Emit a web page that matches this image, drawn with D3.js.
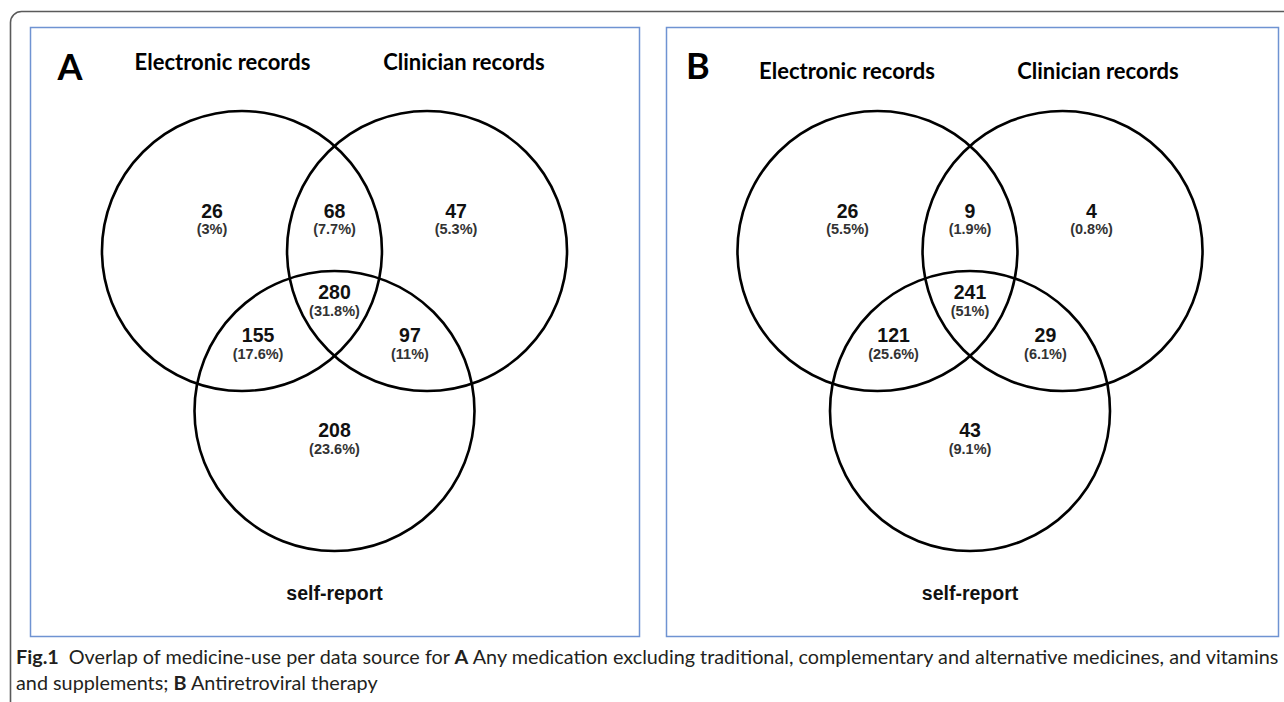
<!DOCTYPE html>
<html>
<head>
<meta charset="utf-8">
<script src="https://cdn.jsdelivr.net/npm/d3@7"></script>
<style>
  html, body { margin: 0; padding: 0; background: #fff; }
  svg { display: block; }
</style>
</head>
<body>
<svg id="fig" width="1284" height="702"></svg>
<script>
// Three data sources compared in each panel
const sources = ["Electronic records", "Clinician records", "self-report"];
const panelLetters = ["A", "B"];

// Regions of the three-set Venn diagram, E = electronic, C = clinician, S = self-report
const regions = ["E", "EC", "C", "ECS", "ES", "CS", "S"];

// Panel A: any medication (excl. TCAM, vitamins and supplements)
const countsA = [26, 68, 47, 280, 155, 97, 208];
const percentA = ["3%", "7.7%", "5.3%", "31.8%", "17.6%", "11%", "23.6%"];

// Panel B: antiretroviral therapy
const countsB = [26, 9, 4, 241, 121, 29, 43];
const percentB = ["5.5%", "1.9%", "0.8%", "51%", "25.6%", "6.1%", "9.1%"];

const captionLine1 = [
  { text: "Fig.1", bold: true },
  { text: "\u2002Overlap of medicine-use per data source for ", bold: false },
  { text: "A", bold: true },
  { text: " Any medication excluding traditional, complementary and alternative medicines, and vitamins", bold: false }
];
const captionLine2 = [
  { text: "and supplements; ", bold: false },
  { text: "B", bold: true },
  { text: " Antiretroviral therapy", bold: false }
];

const svg = d3.select("#fig");

// Outer figure frame (rounded corner, runs off the right and bottom)
svg.append("rect")
  .attr("x", 10.5).attr("y", 11.5)
  .attr("width", 1320).attr("height", 740)
  .attr("rx", 11).attr("ry", 11)
  .attr("fill", "none")
  .attr("stroke", "#5a5a5a")
  .attr("stroke-width", 1.6);

// Venn layout in unit-radius coordinates (origin between the two upper circles)
const circleCentres = [[-0.661, 0], [0.661, 0], [0, 1.143]];
const labelAnchors = {
  E: [-0.875, -0.236], EC: [0, -0.236], C: [0.868, -0.236],
  ECS: [0, 0.343], ES: [-0.546, 0.65], CS: [0.539, 0.65], S: [0, 1.329]
};

const radiusPx = 140;
const panels = [
  { letter: panelLetters[0], counts: countsA, pct: percentA,
    box: [30.5, 27.5, 609, 609], origin: [334.5, 251],
    letterPos: [-277, -173], titles: [[-112, -181], [129.5, -181]] },
  { letter: panelLetters[1], counts: countsB, pct: percentB,
    box: [666.5, 27.5, 612, 609], origin: [970, 251],
    letterPos: [-284, -174], titles: [[-123, -172], [128, -172]] }
];

panels.forEach(p => {
  const g = svg.append("g");
  const x = d3.scaleLinear().domain([-1, 1]).range([p.origin[0] - radiusPx, p.origin[0] + radiusPx]);
  const y = d3.scaleLinear().domain([-1, 1]).range([p.origin[1] - radiusPx, p.origin[1] + radiusPx]);
  const px = d => p.origin[0] + d; // pixel offsets for annotation text
  const py = d => p.origin[1] + d;

  // Panel border
  g.append("rect")
    .attr("x", p.box[0]).attr("y", p.box[1])
    .attr("width", p.box[2]).attr("height", p.box[3])
    .attr("fill", "#fff")
    .attr("stroke", "#6f93d2")
    .attr("stroke-width", 1.5);

  // Panel letter
  g.append("text")
    .attr("x", px(p.letterPos[0])).attr("y", py(p.letterPos[1]) + 2)
    .attr("font-family", "Lato, 'Open Sans', sans-serif")
    .attr("font-weight", 700)
    .attr("font-size", 36)
    .attr("fill", "#000")
    .text(p.letter);

  // Source titles above the upper circles
  g.selectAll("text.title")
    .data(sources.slice(0, 2))
    .join("text")
    .attr("class", "title")
    .attr("x", (d, i) => px(p.titles[i][0]))
    .attr("y", (d, i) => py(p.titles[i][1]))
    .attr("text-anchor", "middle")
    .attr("font-family", "Lato, 'Open Sans', sans-serif")
    .attr("font-weight", 700)
    .attr("font-size", 22)
    .attr("fill", "#000")
    .text(d => d);

  // Self-report title beneath the lower circle
  g.append("text")
    .attr("x", px(0)).attr("y", py(349))
    .attr("text-anchor", "middle")
    .attr("font-family", "'Liberation Sans', Arial, sans-serif")
    .attr("font-weight", 700)
    .attr("font-size", 19.5)
    .attr("fill", "#111")
    .text(sources[2]);

  // Circles
  g.selectAll("circle")
    .data(circleCentres)
    .join("circle")
    .attr("cx", d => x(d[0]))
    .attr("cy", d => y(d[1]))
    .attr("r", x(1) - x(0))
    .attr("fill", "none")
    .attr("stroke", "#000")
    .attr("stroke-width", 2.6);

  // Region counts and percentages
  const cells = regions.map((k, i) => ({ key: k, n: p.counts[i], pct: p.pct[i] }));
  const lab = g.selectAll("g.region")
    .data(cells)
    .join("g")
    .attr("class", "region")
    .attr("transform", d => `translate(${x(labelAnchors[d.key][0])},${y(labelAnchors[d.key][1])})`);

  lab.append("text")
    .attr("text-anchor", "middle")
    .attr("font-family", "'Liberation Sans', Arial, sans-serif")
    .attr("font-weight", 700)
    .attr("font-size", 19.5)
    .attr("fill", "#111")
    .text(d => d.n);

  lab.append("text")
    .attr("y", 16.5)
    .attr("text-anchor", "middle")
    .attr("font-family", "'Liberation Sans', Arial, sans-serif")
    .attr("font-weight", 700)
    .attr("font-size", 14.5)
    .attr("fill", "#333")
    .text(d => `(${d.pct})`);
});

// Figure caption, sized so the first line spans the figure width
function captionText(parts, yPos) {
  const t = svg.append("text")
    .attr("x", 16).attr("y", yPos)
    .attr("font-family", "Lato, 'Open Sans', sans-serif")
    .attr("font-size", 17)
    .attr("fill", "#231f20");
  t.selectAll("tspan")
    .data(parts)
    .join("tspan")
    .attr("font-weight", d => d.bold ? 700 : 400)
    .text(d => d.text);
  return t;
}
const cap1 = captionText(captionLine1, 664);
const cap2 = captionText(captionLine2, 690);
const targetWidth = 1263;
const natural = cap1.node().getComputedTextLength();
const fitted = 17 * targetWidth / natural;
cap1.attr("font-size", fitted);
cap2.attr("font-size", fitted);
</script>
</body>
</html>
